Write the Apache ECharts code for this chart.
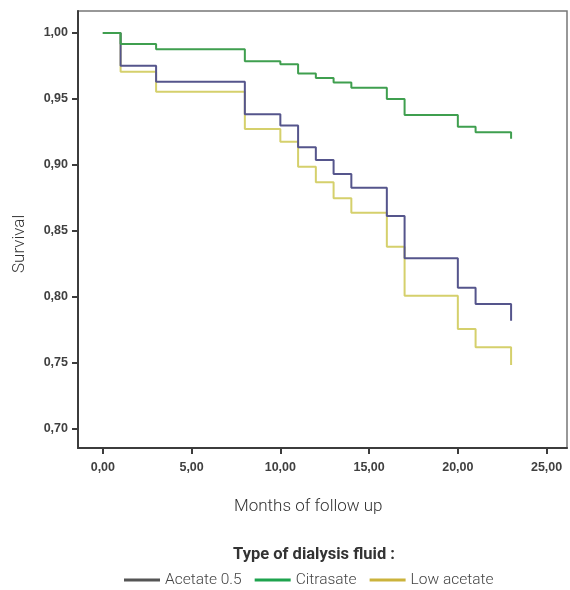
<!DOCTYPE html>
<html>
<head>
<meta charset="utf-8">
<script src="https://cdn.jsdelivr.net/npm/echarts@6/dist/echarts.min.js"></script>
<style>
  html, body { margin: 0; padding: 0; background: #fff; }
  #chart { width: 570px; height: 590px; }
</style>
</head>
<body>
<div id="chart"></div>
<script>
// survival data (months, cumulative survival)
var months = [0, 1, 3, 8, 10, 11, 12, 13, 14, 16, 17, 20, 21, 23];
var acetate05 = [1.0, 0.9752, 0.9631, 0.9384, 0.930, 0.9134, 0.9038, 0.8932, 0.8828, 0.8614, 0.8293, 0.807, 0.7947, 0.782];
var citrasate = [1.0, 0.9917, 0.9877, 0.9786, 0.9763, 0.9694, 0.966, 0.9626, 0.9586, 0.950, 0.9379, 0.929, 0.9248, 0.920];
var lowAcetate = [1.0, 0.9707, 0.9555, 0.9273, 0.9177, 0.8987, 0.8869, 0.8748, 0.8639, 0.8381, 0.801, 0.7758, 0.7619, 0.7485];

var xTicks = [0, 5, 10, 15, 20, 25];
var yTicks = [0.70, 0.75, 0.80, 0.85, 0.90, 0.95, 1.00];

function pairs(vals) {
  return months.map(function (m, i) { return [m, vals[i]]; });
}
function fmt(v) {
  return v.toFixed(2).replace('.', ',');
}

var myChart = echarts.init(document.getElementById('chart'), null, { renderer: 'canvas' });

var tickLabel = {
  fontFamily: 'Liberation Sans',
  fontWeight: 'bold',
  fontSize: 12.5,
  color: '#404040'
};

var option = {
  animation: false,
  title: {
    text: 'Type of dialysis fluid :',
    left: 309,
    textAlign: 'center',
    top: 541,
    textStyle: {
      fontFamily: 'Roboto',
      fontWeight: 'bold',
      fontSize: 16.5,
      color: '#333'
    }
  },
  legend: {
    top: 567,
    left: 119,
    itemWidth: 36,
    itemHeight: 3,
    itemGap: 13,
    icon: 'rect',
    textStyle: { fontFamily: 'Roboto', fontWeight: 300, fontSize: 15.5, color: '#444' },
    data: [
      { name: 'Acetate 0.5', itemStyle: { color: '#555555' } },
      { name: 'Citrasate', itemStyle: { color: '#1ea34e' } },
      { name: 'Low acetate', itemStyle: { color: '#cbb33c' } }
    ]
  },
  grid: {
    left: 78,
    top: 11,
    right: 3,
    bottom: 142,
    show: true,
    borderColor: '#777',
    borderWidth: 1.5
  },
  xAxis: {
    type: 'value',
    min: -1.4,
    max: 26.15,
    axisLine: { show: true, onZero: false, lineStyle: { color: '#3c3c3c', width: 2 } },
    axisTick: { show: true, length: 6, customValues: xTicks, lineStyle: { color: '#3c3c3c', width: 2 } },
    axisLabel: Object.assign({ margin: 13, customValues: xTicks, formatter: fmt }, tickLabel),
    splitLine: { show: false }
  },
  yAxis: {
    type: 'value',
    min: 0.6856,
    max: 1.0167,
    axisLine: { show: true, onZero: false, lineStyle: { color: '#3c3c3c', width: 2 } },
    axisTick: { show: true, length: 6, customValues: yTicks, lineStyle: { color: '#3c3c3c', width: 2 } },
    axisLabel: Object.assign({ margin: 10, customValues: yTicks, formatter: fmt }, tickLabel),
    splitLine: { show: false }
  },
  graphic: [
    {
      type: 'text',
      left: 234,
      top: 498,
      style: { text: 'Months of follow up', fontFamily: 'Roboto', fontWeight: 300, fontSize: 17, fill: '#333' }
    },
    {
      type: 'text',
      x: 11,
      y: 273,
      rotation: Math.PI / 2,
      style: { text: 'Survival', fontFamily: 'Roboto', fontWeight: 300, fontSize: 17, fill: '#333' }
    }
  ],
  series: [
    {
      name: 'Low acetate',
      type: 'line',
      step: 'end',
      showSymbol: false,
      color: '#d5d06c',
      lineStyle: { width: 2, color: '#d5d06c' },
      data: pairs(lowAcetate)
    },
    {
      name: 'Acetate 0.5',
      type: 'line',
      step: 'end',
      showSymbol: false,
      color: '#55558c',
      lineStyle: { width: 2, color: '#55558c' },
      data: pairs(acetate05)
    },
    {
      name: 'Citrasate',
      type: 'line',
      step: 'end',
      showSymbol: false,
      color: '#3f9f4f',
      lineStyle: { width: 2, color: '#3f9f4f' },
      data: pairs(citrasate)
    }
  ]
};

myChart.setOption(option);
window.addEventListener('resize', myChart.resize);
</script>
</body>
</html>
